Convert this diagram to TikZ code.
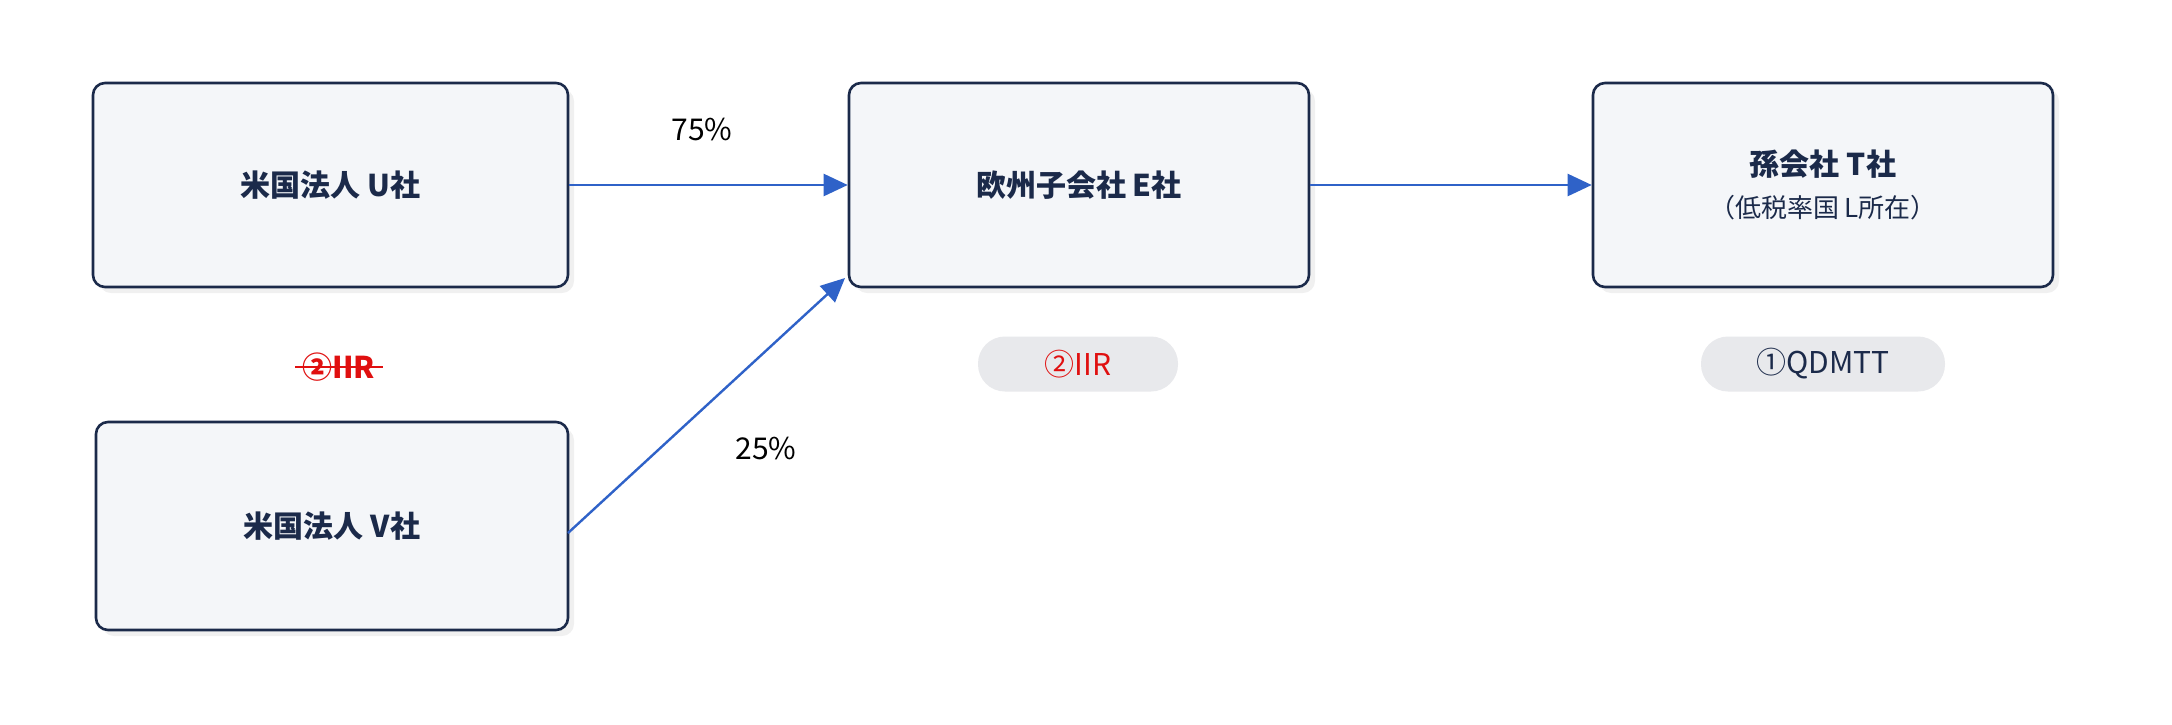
\documentclass[tikz,border=0pt]{standalone}
\usepackage{fontspec}
\setmainfont{Noto Sans CJK JP}
\usetikzlibrary{arrows.meta,shadows}
\definecolor{boxfill}{HTML}{F4F6F9}
\definecolor{boxline}{HTML}{1B2A4A}
\definecolor{arrowc}{HTML}{2F62C8}
\definecolor{pillc}{HTML}{E8E9EC}
\definecolor{redc}{HTML}{E01010}
\begin{document}
\begin{tikzpicture}[x=1pt,y=-1pt,
  box/.style={draw=boxline,line width=2.6pt,fill=boxfill,rounded corners=12pt,
    minimum width=#1,minimum height=204pt,inner sep=0pt,align=center,
    font=\fontsize{30}{44}\selectfont\bfseries,text=boxline,
    drop shadow={shadow xshift=6pt,shadow yshift=-6pt,fill=black,opacity=0.06}},
  box/.default=475pt,
  pill/.style={fill=pillc,rounded corners=27pt,minimum height=55pt,inner sep=0pt,
    font=\fontsize{30}{36}\selectfont},
  conn/.style={draw=arrowc,line width=2.4pt,-{Triangle[length=24pt,width=22pt]}},
  lab/.style={font=\fontsize{30}{36}\selectfont,text=black}]
\useasboundingbox (0,0) rectangle (2172,724);
\fill[white] (0,0) rectangle (2172,724);
\node[box] (U) at (330.5,185) {米国法人 U社};
\node[box=472pt,minimum height=208pt] (V) at (332,526) {米国法人 V社};
\node[box=460pt] (E) at (1079,185) {欧州子会社 E社};
\node[box=460pt] (T) at (1823,185) {孫会社 T社\\[-2pt]{\fontsize{26}{36}\selectfont\mdseries （低税率国 L所在）}};
\draw[conn] (U.east) -- (E.west |- U.east);
\coordinate (Vs) at (568,533);
\coordinate (Ee) at (845,278);
\draw[conn] (Vs) -- (Ee);
\draw[conn] (E.east) -- (T.west);
\node[lab] (p75) at (702,129) {75\%};
\node[lab] (p25) at (766,448) {25\%};
\node[font=\fontsize{30}{36}\selectfont\bfseries,text=redc] (s) at (339,367) {②IIR};
\draw[redc,line width=2.6pt] ([xshift=-4pt]s.west) -- ([xshift=4pt]s.east);
\node[pill,minimum width=200pt,text=redc] (pE) at (1078,364) {②IIR};
\node[pill,minimum width=244pt,text=boxline] (pT) at (1823,364) {①QDMTT};
\end{tikzpicture}
\end{document}
